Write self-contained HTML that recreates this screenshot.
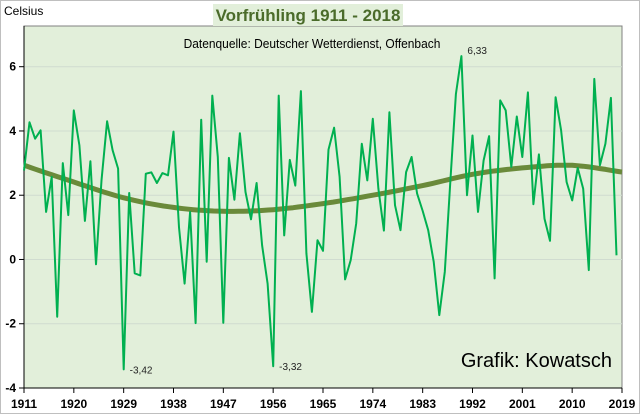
<!DOCTYPE html>
<html><head><meta charset="utf-8"><style>
body{margin:0;background:#fff;}
svg{display:block;font-family:"Liberation Sans",sans-serif;}
</style></head><body>
<svg width="640" height="414" viewBox="0 0 640 414">
<rect x="0.5" y="0.5" width="639" height="413" fill="#fff" stroke="#bfbfbf"/>
<rect x="24" y="26" width="598" height="362" fill="#e2efda" stroke="#808080" stroke-width="1"/>
<g id="grid"></g>
<g id="axes"></g>
<polyline id="trend" fill="none" stroke="#6a8a3a" stroke-width="5" stroke-linejoin="round"/>
<polyline id="series" fill="none" stroke="#00b050" stroke-width="2" stroke-linejoin="round"/>
<g id="ann"></g>
<rect x="213" y="4" width="190" height="22" fill="#e2efda"/>
<text x="308" y="21" text-anchor="middle" font-size="17" font-weight="bold" fill="#4a6b2a">Vorfrühling 1911 - 2018</text>
<text x="4" y="15" font-size="12" fill="#000">Celsius</text>
<text x="312" y="48" text-anchor="middle" font-size="13" fill="#000" transform="translate(312 0) scale(0.92 1) translate(-312 0)">Datenquelle: Deutscher Wetterdienst, Offenbach</text>
<text x="612" y="367" text-anchor="end" font-size="20" fill="#000">Grafik: Kowatsch</text>
</svg>
<script>
const startYear = 1911;
const values = [2.77,4.27,3.76,4.02,1.48,2.57,-1.78,3.0,1.38,4.64,3.55,1.2,3.06,-0.15,2.46,4.3,3.4,2.83,-3.42,2.07,-0.43,-0.5,2.67,2.71,2.38,2.69,2.62,3.98,1.0,-0.75,1.48,-1.98,4.35,-0.07,5.1,3.19,-1.97,3.16,1.86,3.93,2.1,1.25,2.38,0.44,-0.75,-3.32,5.1,0.75,3.1,2.3,5.24,0.19,-1.63,0.6,0.27,3.42,4.1,2.57,-0.62,-0.02,1.12,3.6,2.46,4.38,2.2,0.9,4.58,1.69,0.91,2.72,3.19,2.05,1.51,0.91,-0.07,-1.73,-0.38,2.46,5.15,6.33,2.0,3.86,1.48,3.08,3.84,-0.59,4.95,4.64,2.88,4.45,3.19,5.2,1.72,3.27,1.27,0.58,5.05,4.02,2.41,1.84,2.85,2.2,-0.33,5.62,2.93,3.6,5.03,0.13];
const trendYears = [1911,1920,1929,1938,1947,1956,1965,1974,1983,1992,2001,2010,2019];
const trendValues = [2.93,2.41,1.92,1.62,1.5,1.55,1.74,2.0,2.3,2.65,2.85,2.93,2.72];
const yTicks = [-4,-2,0,2,4,6];
const xTickLabels = ["1911","1920","1929","1938","1947","1956","1965","1974","1983","1992","2001","2010","2019"];
const labeled = [[1929,"-3,42"],[1956,"-3,32"],[1990,"6,33"]];

const NS="http://www.w3.org/2000/svg";
const X0=24,X1=622,Y0=388,Y1=66.7;
function xs(yr){return X0+(yr-1911)*(X1-X0)/108;}
function ys(v){return Y0-(v+4)*(Y0-Y1)/10;}
function mk(tag,attrs,parent){const e=document.createElementNS(NS,tag);for(const k in attrs)e.setAttribute(k,attrs[k]);parent.appendChild(e);return e;}
const grid=document.getElementById('grid'),axes=document.getElementById('axes'),ann=document.getElementById('ann');
yTicks.forEach(v=>{
  if(v>-4){const g=mk('line',{x1:X0,x2:X1,y1:ys(v),y2:ys(v),stroke:'#d0dcd0','stroke-width':1},grid);
  
  }
  const t=mk('line',{x1:X0-5,x2:X0,y1:ys(v),y2:ys(v),stroke:'#000'},axes);
  
  
  const l=mk('text',{x:X0-8,y:ys(v)+4,'text-anchor':'end','font-size':12,'font-weight':'bold'},axes);
  l.textContent=v;
  
  
});
mk('line',{x1:X0,x2:X0,y1:26,y2:Y0,stroke:'#000'},axes);
mk('line',{x1:X0,x2:X1,y1:Y0,y2:Y0,stroke:'#000'},axes);
xTickLabels.forEach(s=>{
  const x=xs(+s);
  const t=mk('line',{x1:x,x2:x,y1:Y0,y2:Y0+5,stroke:'#000'},axes);
  
  
  const l=mk('text',{x:x,y:408,'text-anchor':'middle','font-size':12,'font-weight':'bold'},axes);
  l.textContent=s;
  
  
});
document.getElementById('series').setAttribute('points',values.map((v,i)=>xs(startYear+i).toFixed(1)+','+ys(v).toFixed(1)).join(' '));
const pts=trendYears.map((y,i)=>[xs(y),ys(trendValues[i])]);
let tp=[];
for(let i=0;i<pts.length-1;i++){
  const p0=pts[Math.max(0,i-1)],p1=pts[i],p2=pts[i+1],p3=pts[Math.min(pts.length-1,i+2)];
  for(let s=0;s<10;s++){const t=s/10,t2=t*t,t3=t2*t;
    const f=(a,b,c,d)=>0.5*((2*b)+(-a+c)*t+(2*a-5*b+4*c-d)*t2+(-a+3*b-3*c+d)*t3);
    tp.push(f(p0[0],p1[0],p2[0],p3[0]).toFixed(1)+','+f(p0[1],p1[1],p2[1],p3[1]).toFixed(1));}
}
tp.push(pts[pts.length-1].join(','));
document.getElementById('trend').setAttribute('points',tp.join(' '));
labeled.forEach(([yr,s])=>{
  const v=values[yr-startYear];
  const l=mk('text',{x:xs(yr)+6,y:ys(v)+(v>0?-2:4),'font-size':10,fill:'#222'},ann);
  l.textContent=s;
  
  
});
</script>
</body></html>
